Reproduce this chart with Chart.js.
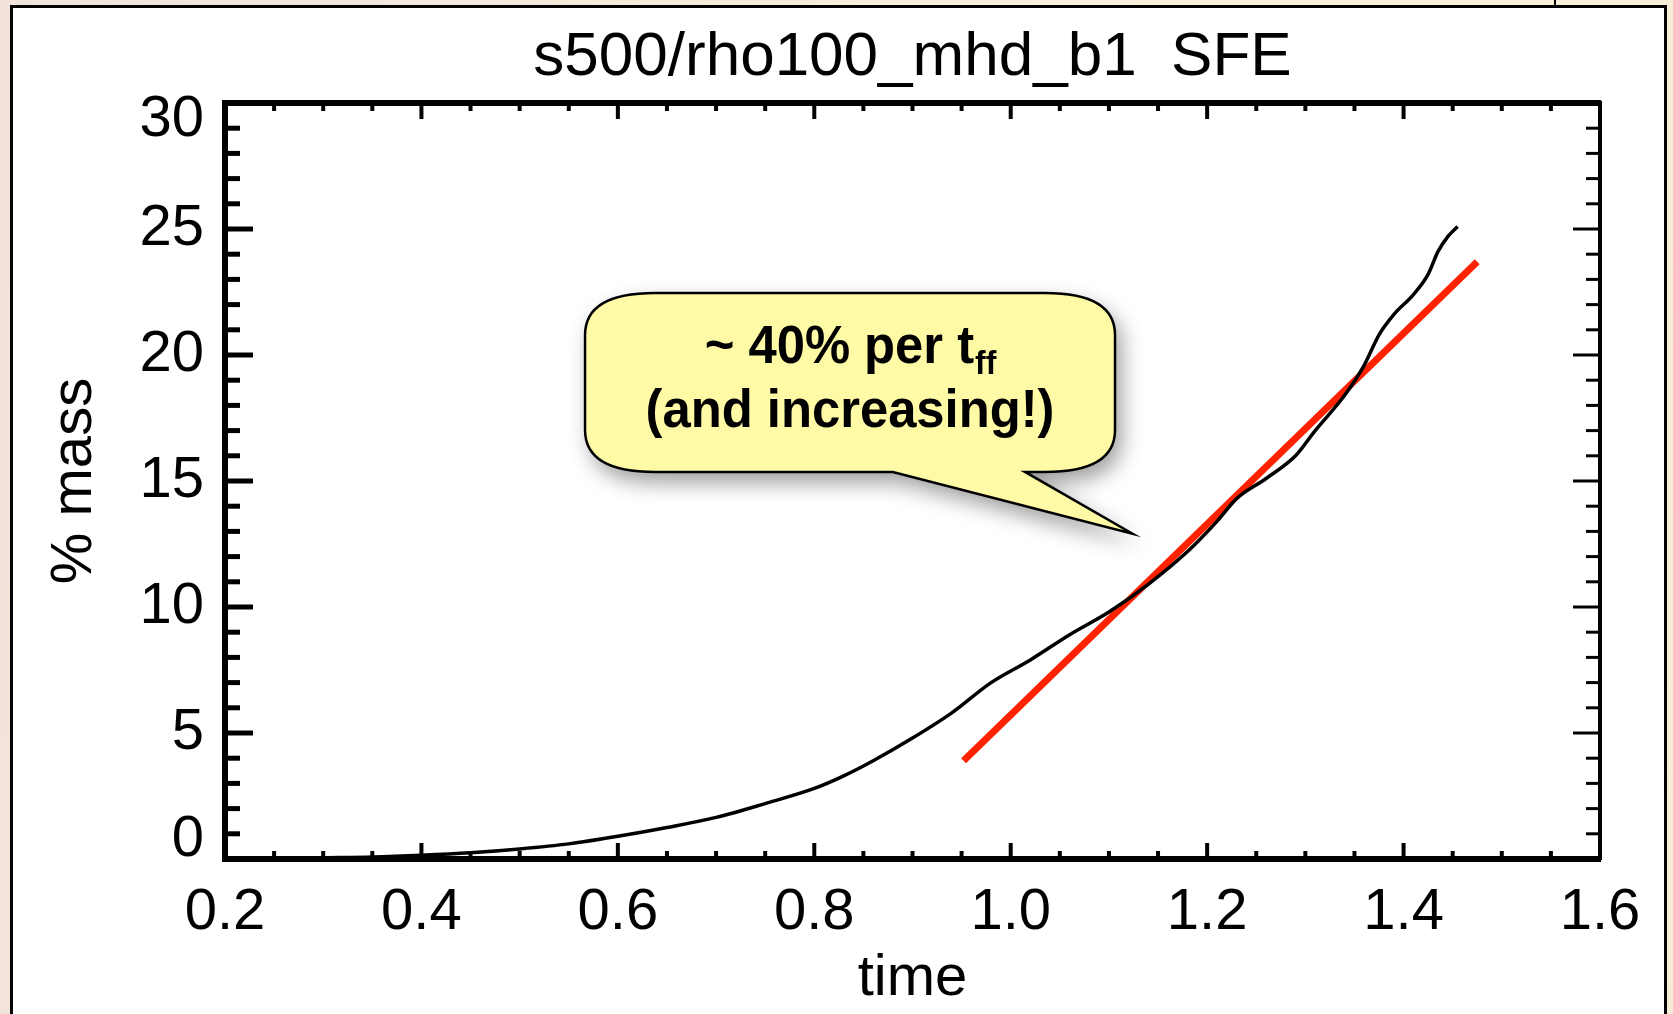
<!DOCTYPE html>
<html>
<head>
    <title>s500/rho100_mhd_b1 SFE</title>
    <script src="https://cdn.jsdelivr.net/npm/chart.js"></script>
    <style>
        html, body { margin: 0; padding: 0; width: 1673px; height: 1014px; overflow: hidden; }
        body { position: relative; background: linear-gradient(100deg, #f1e2db 0%, #f6eadc 35%, #faf0d8 70%, #f8ecd6 100%); }
        #panel { position: absolute; left: 10px; top: 5px; width: 1657px; height: 1030px; background: #fff; border: 3px solid #000; box-sizing: border-box; }
        #edge { position: absolute; left: 1554px; top: 0; width: 2px; height: 6px; background: #000; }
        #sfeChart { position: absolute; left: 0; top: 0; }
    </style>
</head>
<body>
    <div id="panel"></div>
    <div id="edge"></div>
    <canvas id="sfeChart" width="1673" height="1014"></canvas>
    <script>
        // star formation efficiency curve
        const timeValues = [0.30, 0.35, 0.40, 0.45, 0.50, 0.55, 0.60, 0.65, 0.70, 0.75,
                            0.80, 0.83, 0.86, 0.90, 0.94, 0.98, 1.02, 1.06, 1.10, 1.14,
                            1.18, 1.21, 1.23, 1.26, 1.29, 1.31, 1.34, 1.36, 1.375, 1.39,
                            1.41, 1.425, 1.435, 1.445, 1.455];
        const massValues = [0.05, 0.08, 0.15, 0.25, 0.4, 0.6, 0.9, 1.25, 1.65, 2.2,
                            2.8, 3.3, 3.9, 4.8, 5.8, 7.0, 7.9, 8.9, 9.8, 10.9,
                            12.2, 13.4, 14.3, 15.1, 16.0, 17.0, 18.4, 19.6, 20.8, 21.6,
                            22.4, 23.2, 24.1, 24.7, 25.1];

        // red fit line (~40% per free-fall time)
        const fitTime = [0.952, 1.475];
        const fitMass = [3.9, 23.7];

        const xTickValues = [0.2, 0.4, 0.6, 0.8, 1.0, 1.2, 1.4, 1.6];
        const yTickValues = [0, 5, 10, 15, 20, 25, 30];
        const xMinorStep = 0.05;
        const yMinorStep = 1;

        // callout, in data units
        const calloutBox = { x0: 0.5666, x1: 1.1062, y0: 22.46, y1: 15.36 };
        const calloutTail = { base0: 0.880, base1: 1.0146, tipX: 1.124, tipY: 12.91 };

        const FONT = "'Liberation Sans', Arial, Helvetica, sans-serif";

        // IDL-style inward ticks on all four sides
        function drawInnerTicks(ctx, scale, step, majorLen, minorLen, width) {
            const a = scale.chart.chartArea;
            const n = Math.round((scale.max - scale.min) / step);
            ctx.save();
            ctx.strokeStyle = '#000';
            ctx.lineWidth = width;
            ctx.lineCap = 'butt';
            for (let i = 1; i < n; i++) {
                const v = scale.min + i * step;
                const major = scale.ticks.some(t => Math.abs(t.value - v) < 1e-6);
                const len = major ? majorLen : minorLen;
                const p = scale.getPixelForValue(v);
                ctx.beginPath();
                if (scale.position === 'bottom') { ctx.moveTo(p, a.bottom); ctx.lineTo(p, a.bottom - len); }
                if (scale.position === 'top') { ctx.moveTo(p, a.top); ctx.lineTo(p, a.top + len); }
                if (scale.position === 'left') { ctx.moveTo(a.left, p); ctx.lineTo(a.left + len, p); }
                if (scale.position === 'right') { ctx.moveTo(a.right, p); ctx.lineTo(a.right - len, p); }
                ctx.stroke();
            }
            ctx.restore();
        }

        const innerTicks = {
            id: 'innerTicks',
            afterDraw(chart) {
                const ctx = chart.ctx;
                drawInnerTicks(ctx, chart.scales.x, xMinorStep, 16, 8, 4);
                drawInnerTicks(ctx, chart.scales.x2, xMinorStep, 16, 8, 4);
                drawInnerTicks(ctx, chart.scales.y, yMinorStep, 28, 15, 5);
                drawInnerTicks(ctx, chart.scales.y2, yMinorStep, 27, 14, 3);
            }
        };

        const callout = {
            id: 'callout',
            afterDraw(chart) {
                const ctx = chart.ctx;
                const xs = chart.scales.x, ys = chart.scales.y;
                const L = xs.getPixelForValue(calloutBox.x0), R = xs.getPixelForValue(calloutBox.x1);
                const T = ys.getPixelForValue(calloutBox.y0), B = ys.getPixelForValue(calloutBox.y1);
                const b0 = xs.getPixelForValue(calloutTail.base0), b1 = xs.getPixelForValue(calloutTail.base1);
                const tx = xs.getPixelForValue(calloutTail.tipX), ty = ys.getPixelForValue(calloutTail.tipY);
                const rx = 70, ry = 42;

                ctx.save();
                ctx.beginPath();
                ctx.moveTo(L + rx, T);
                ctx.lineTo(R - rx, T);
                ctx.quadraticCurveTo(R, T, R, T + ry);
                ctx.lineTo(R, B - ry);
                ctx.quadraticCurveTo(R, B, R - rx, B);
                ctx.lineTo(b1, B);
                ctx.lineTo(tx, ty);
                ctx.lineTo(b0, B);
                ctx.lineTo(L + rx, B);
                ctx.quadraticCurveTo(L, B, L, B - ry);
                ctx.lineTo(L, T + ry);
                ctx.quadraticCurveTo(L, T, L + rx, T);
                ctx.closePath();
                ctx.shadowColor = 'rgba(0,0,0,0.4)';
                ctx.shadowBlur = 22;
                ctx.shadowOffsetX = 6;
                ctx.shadowOffsetY = 10;
                ctx.fillStyle = '#fffaa6';
                ctx.fill();
                ctx.shadowColor = 'transparent';
                ctx.lineWidth = 2.5;
                ctx.strokeStyle = '#000';
                ctx.lineJoin = 'miter';
                ctx.stroke();

                // text, slightly condensed like the original
                const cx = (L + R) / 2;
                const sx = 0.94;
                ctx.fillStyle = '#000';
                ctx.textBaseline = 'alphabetic';
                ctx.textAlign = 'left';
                ctx.font = 'bold 54px ' + FONT;
                const main = '~ 40% per t';
                const wMain = ctx.measureText(main).width;
                ctx.font = 'bold 34px ' + FONT;
                const wSub = ctx.measureText('ff').width;
                ctx.translate(cx, 0);
                ctx.scale(sx, 1);
                const x0 = -(wMain + wSub) / 2;
                ctx.font = 'bold 54px ' + FONT;
                ctx.fillText(main, x0, T + 70);
                ctx.font = 'bold 34px ' + FONT;
                ctx.fillText('ff', x0 + wMain + 1, T + 81);
                ctx.font = 'bold 54px ' + FONT;
                ctx.textAlign = 'center';
                ctx.fillText('(and increasing!)', 0, T + 134);
                ctx.restore();
            }
        };

        const tickFont = { family: FONT, size: 58 };
        const titleFont = { family: FONT, size: 58 };

        const ctx = document.getElementById('sfeChart').getContext('2d');
        new Chart(ctx, {
            type: 'line',
            data: {
                datasets: [{
                    data: timeValues.map((t, i) => ({ x: t, y: massValues[i] })),
                    borderColor: '#000',
                    borderWidth: 3.5,
                    pointRadius: 0,
                    cubicInterpolationMode: 'monotone',
                    fill: false
                }, {
                    data: fitTime.map((t, i) => ({ x: t, y: fitMass[i] })),
                    borderColor: '#ff2200',
                    borderWidth: 7,
                    borderCapStyle: 'butt',
                    pointRadius: 0,
                    fill: false
                }]
            },
            options: {
                responsive: false,
                animation: false,
                layout: { padding: 0 },
                plugins: {
                    legend: { display: false },
                    tooltip: { enabled: false },
                    title: {
                        display: true,
                        fullSize: false,
                        text: 's500/rho100_mhd_b1  SFE',
                        color: '#000',
                        font: { family: FONT, size: 62, weight: 'normal' },
                        padding: { top: 21, bottom: 7.6 }
                    }
                },
                scales: {
                    x: {
                        type: 'linear', position: 'bottom', min: 0.2, max: 1.6,
                        afterBuildTicks: s => { s.ticks = xTickValues.map(v => ({ value: v })); },
                        afterFit: s => { s.height = 155; },
                        ticks: { color: '#000', font: tickFont, padding: 19, autoSkip: false, maxRotation: 0,
                                 callback: v => v.toFixed(1) },
                        grid: { drawOnChartArea: false, drawTicks: false },
                        border: { display: true, color: '#000', width: 6 },
                        title: { display: true, text: 'time', color: '#000', font: titleFont, padding: { top: 0, bottom: 0 } }
                    },
                    x2: {
                        type: 'linear', position: 'top', min: 0.2, max: 1.6,
                        afterBuildTicks: s => { s.ticks = xTickValues.map(v => ({ value: v })); },
                        afterFit: s => { s.height = 0; },
                        ticks: { display: false },
                        grid: { drawOnChartArea: false, drawTicks: false },
                        border: { display: true, color: '#000', width: 6 }
                    },
                    y: {
                        type: 'linear', position: 'left', min: 0, max: 30,
                        afterBuildTicks: s => { s.ticks = yTickValues.map(v => ({ value: v })); },
                        afterFit: s => { s.width = 225; },
                        ticks: {
                            color: '#000', padding: 21, autoSkip: false,
                            // keep end labels inside the axis range, like IDL does
                            callback: v => v === 30 ? ['', '30'] : (v === 0 ? ['0', ''] : String(v)),
                            font: c => ({ family: FONT, size: 58,
                                lineHeight: c.tick && c.tick.value === 30 ? '34px' : (c.tick && c.tick.value === 0 ? '38px' : 1.2) })
                        },
                        grid: { drawOnChartArea: false, drawTicks: false },
                        border: { display: true, color: '#000', width: 6 },
                        title: { display: true, text: '% mass', color: '#000', font: titleFont, padding: { top: 40, bottom: 0 } }
                    },
                    y2: {
                        type: 'linear', position: 'right', min: 0, max: 30,
                        afterBuildTicks: s => { s.ticks = yTickValues.map(v => ({ value: v })); },
                        afterFit: s => { s.width = 73; },
                        ticks: { display: false },
                        grid: { drawOnChartArea: false, drawTicks: false },
                        border: { display: true, color: '#000', width: 4 }
                    }
                }
            },
            plugins: [innerTicks, callout]
        });
    </script>
</body>
</html>
